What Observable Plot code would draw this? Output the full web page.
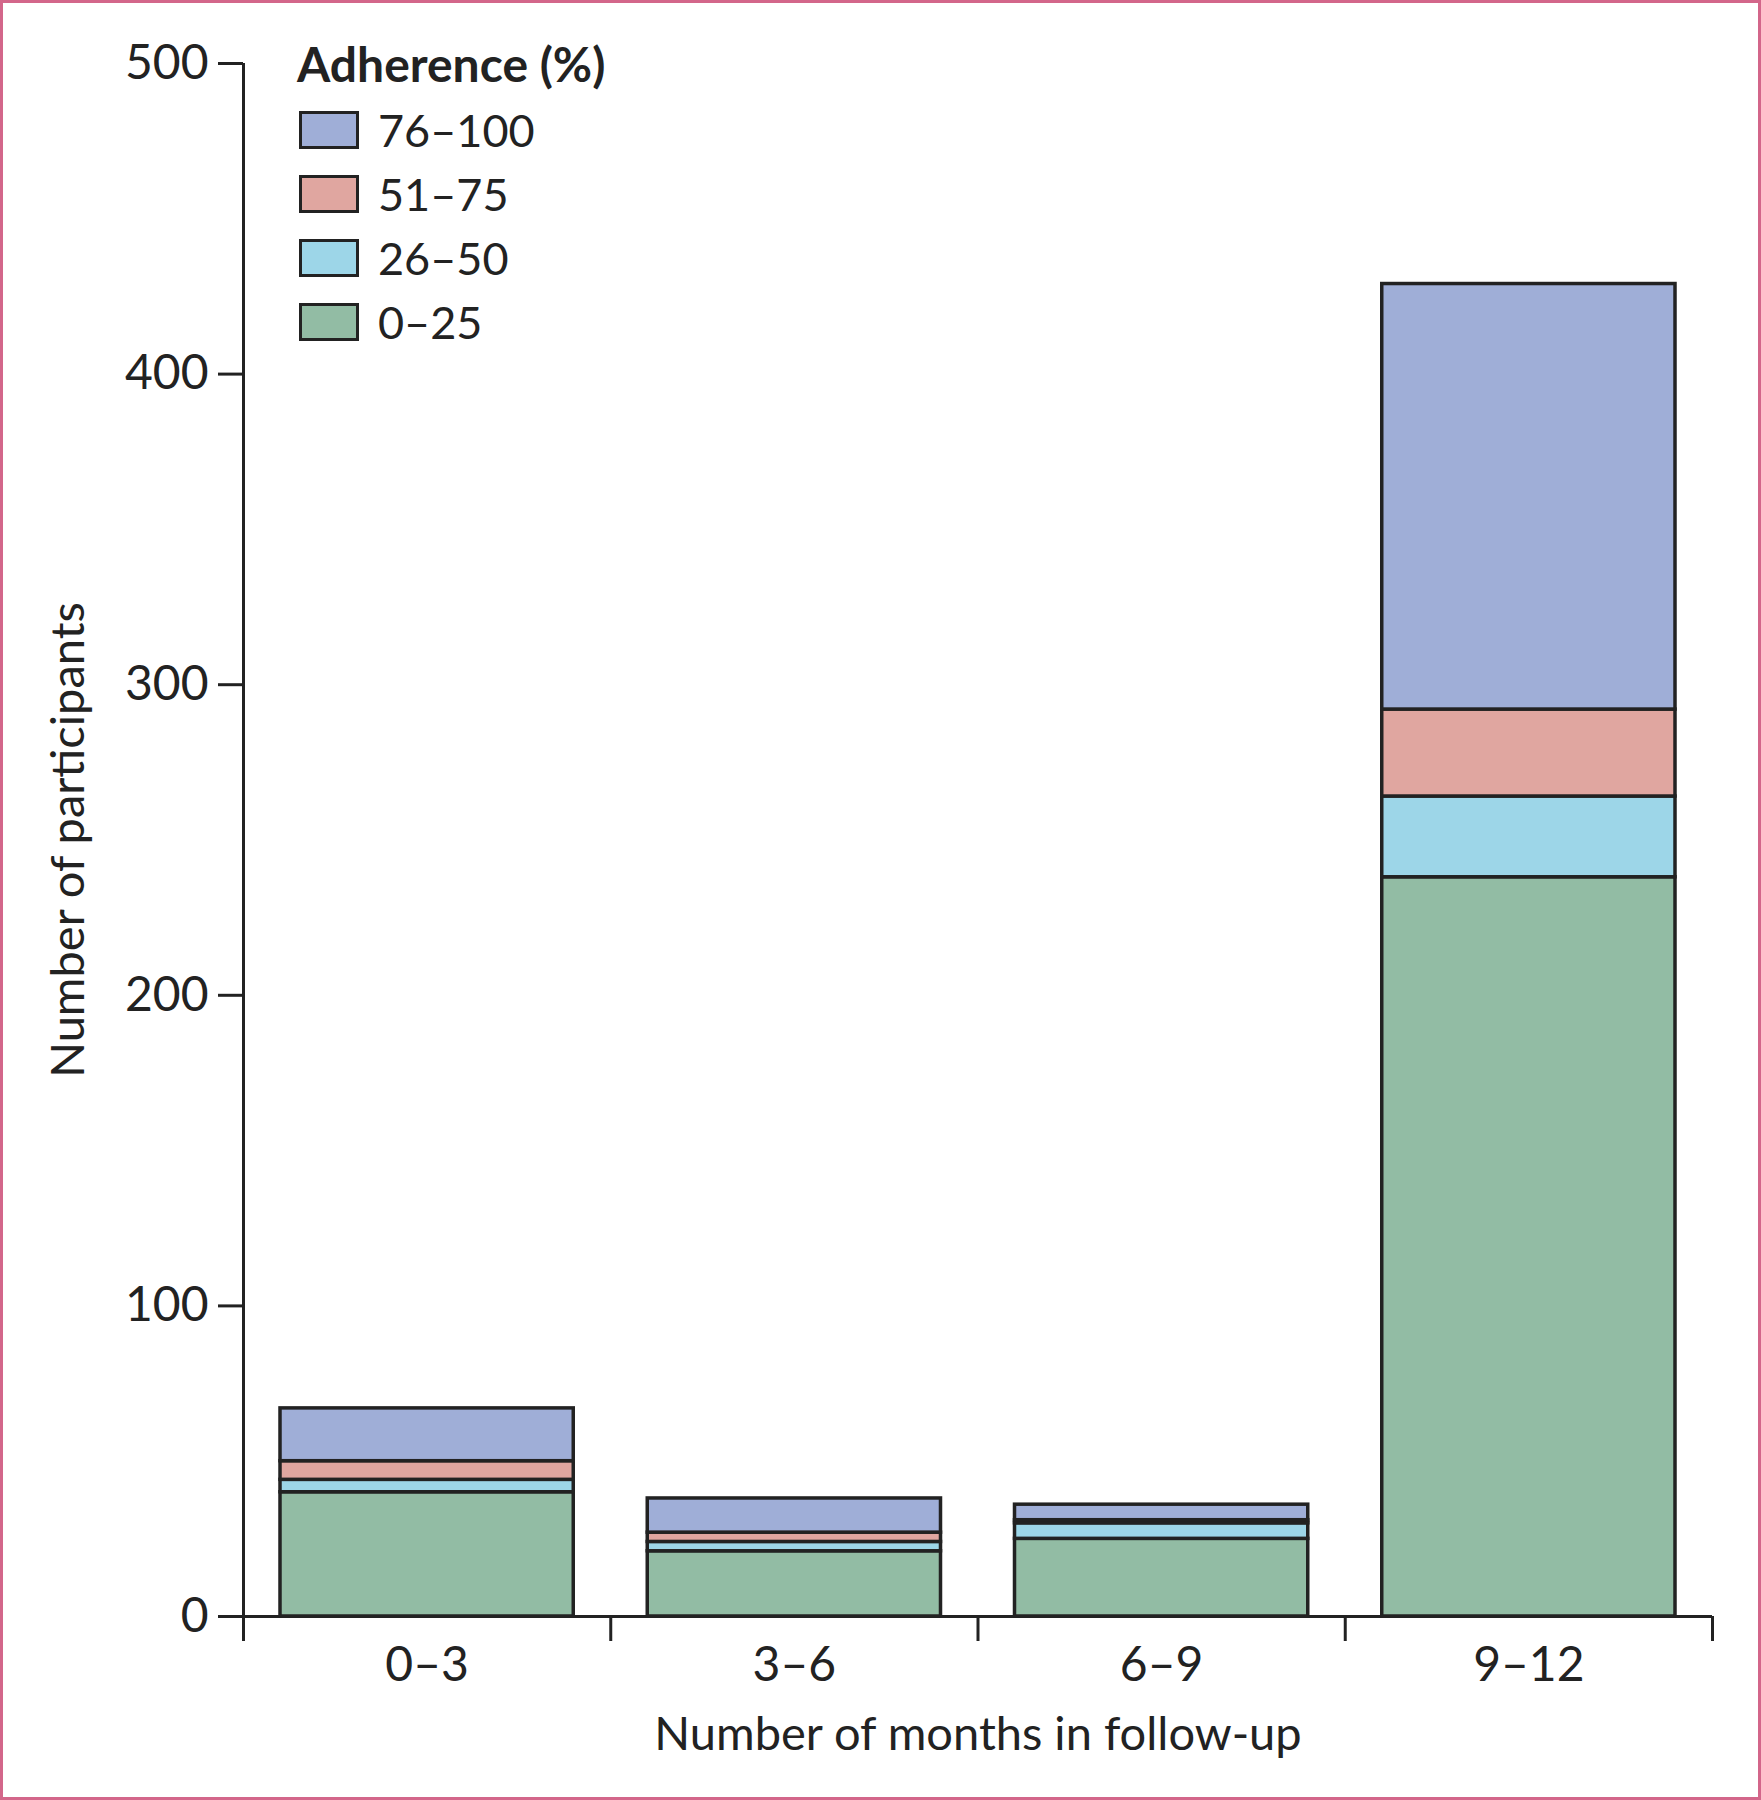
<!DOCTYPE html>
<html>
<head>
<meta charset="utf-8">
<script src="https://cdn.jsdelivr.net/npm/d3@7"></script>
<script src="https://cdn.jsdelivr.net/npm/@observablehq/plot@0.6"></script>
<style>
  html, body { margin: 0; padding: 0; background: #fff; }
  #wrap { position: relative; width: 1761px; height: 1800px; overflow: hidden; font-family: Lato, sans-serif; color: #222; }
  #wrap svg { position: absolute; left: 0; top: 0; }
  #frame { position: absolute; left: 0; top: 0; width: 1761px; height: 1800px; box-sizing: border-box; border: 3px solid #d3668a; pointer-events: none; }
  #legend { position: absolute; left: 297px; top: 36px; }
  #legend .title { font-weight: 700; font-size: 48px; line-height: 56px; margin-bottom: 6px; }
  #legend .row { display: flex; align-items: center; height: 64px; }
  #legend .sw { width: 54px; height: 32px; border: 3px solid #222; margin-right: 19px; margin-left: 2px; }
  #legend .lab { font-size: 45px; }
</style>
</head>
<body>
<div id="wrap"></div>
<script>
const months = ["0–3", "3–6", "6–9", "9–12"];
const groups = ["0–25", "26–50", "51–75", "76–100"];
const adh0_25   = [40, 21, 25, 238];
const adh26_50  = [4, 3, 5, 26];
const adh51_75  = [6, 3, 1, 28];
const adh76_100 = [17, 11, 5, 137];
const colors = ["#92bca4", "#9dd6e8", "#e0a6a0", "#9faed7"];
const yTicks = [0, 100, 200, 300, 400, 500];

const series = [adh0_25, adh26_50, adh51_75, adh76_100];
const rows = [];
months.forEach((m, i) => {
  let base = 0;
  groups.forEach((g, j) => {
    const v = series[j][i];
    rows.push({i, month: m, group: g, y1: base, y2: base + v});
    base += v;
  });
});

const chart = Plot.plot({
  width: 1761,
  height: 1800,
  marginLeft: 243,
  marginRight: 49,
  marginTop: 63,
  marginBottom: 184,
  style: {fontFamily: "Lato, sans-serif", fontSize: "48px", color: "#222", background: "transparent"},
  x: {type: "linear", domain: [0, months.length]},
  y: {domain: [0, 500]},
  color: {domain: groups, range: colors},
  marks: [
    Plot.rect(rows, {x1: "i", x2: d => d.i + 1, y1: "y1", y2: "y2", fill: "group",
      stroke: "#222", strokeWidth: 3.5, insetLeft: 37, insetRight: 37}),
    Plot.ruleX([0], {stroke: "#222", strokeWidth: 3}),
    Plot.ruleY([0], {stroke: "#222", strokeWidth: 3}),
    Plot.axisY({ticks: yTicks, tickSize: 25, tickPadding: 10, strokeWidth: 3, stroke: "#222",
      fontSize: 48, label: null}),
    Plot.axisY({ticks: [], tickSize: 0, label: "Number of participants", labelAnchor: "center",
      labelArrow: "none", labelOffset: 193, fontSize: 47}),
    Plot.axisX({ticks: d3.range(months.length + 1), tickSize: 25, tickFormat: () => "",
      strokeWidth: 3, stroke: "#222", label: null}),
    Plot.axisX({ticks: d3.range(months.length).map(i => i + 0.5), tickSize: 0, tickPadding: 30,
      tickFormat: d => months[Math.floor(d)], fontSize: 48, label: null}),
    Plot.axisX({ticks: [], tickSize: 0, label: "Number of months in follow-up", labelAnchor: "center",
      labelArrow: "none", labelOffset: 133, fontSize: 47})
  ]
});

const wrap = document.getElementById("wrap");
wrap.appendChild(chart);

const legend = document.createElement("div");
legend.id = "legend";
const title = document.createElement("div");
title.className = "title";
title.textContent = "Adherence (%)";
legend.appendChild(title);
[...groups].reverse().forEach(g => {
  const row = document.createElement("div");
  row.className = "row";
  const sw = document.createElement("div");
  sw.className = "sw";
  sw.style.background = colors[groups.indexOf(g)];
  const lab = document.createElement("span");
  lab.className = "lab";
  lab.textContent = g;
  row.appendChild(sw);
  row.appendChild(lab);
  legend.appendChild(row);
});
wrap.appendChild(legend);

const frame = document.createElement("div");
frame.id = "frame";
wrap.appendChild(frame);
</script>
</body>
</html>
